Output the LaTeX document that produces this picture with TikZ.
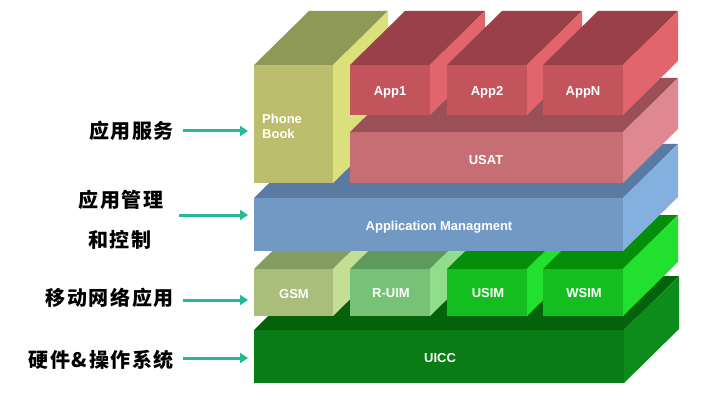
\documentclass[tikz,border=0pt]{standalone}
\usepackage{fontspec}
\setmainfont{Liberation Sans}
\newfontfamily\cjk[LetterSpace=8]{Noto Sans CJK SC}
\usetikzlibrary{arrows.meta}
\definecolor{pbF}{HTML}{BCBE6E}\definecolor{pbT}{HTML}{8E9955}\definecolor{pbR}{HTML}{DCE07C}
\definecolor{apF}{HTML}{C4545C}\definecolor{apT}{HTML}{9A4048}\definecolor{apR}{HTML}{E2646C}
\definecolor{usF}{HTML}{C66E74}\definecolor{usT}{HTML}{9A5056}\definecolor{usR}{HTML}{E08890}
\definecolor{amF}{HTML}{7299C4}\definecolor{amT}{HTML}{5A7AA2}\definecolor{amR}{HTML}{84B0E0}
\definecolor{gsF}{HTML}{A9BE7A}\definecolor{gsT}{HTML}{849C60}\definecolor{gsR}{HTML}{C4DE94}
\definecolor{ruF}{HTML}{76C277}\definecolor{ruT}{HTML}{5E9A5C}\definecolor{ruR}{HTML}{90DE8C}
\definecolor{siF}{HTML}{14BE20}\definecolor{siT}{HTML}{058E0A}\definecolor{siR}{HTML}{22E030}
\definecolor{icF}{HTML}{0A7C16}\definecolor{icT}{HTML}{04620A}\definecolor{icR}{HTML}{0C8C1A}
\definecolor{arrowc}{HTML}{25B995}
\newcommand\slab[7]{%
  \fill[#6] (#1,#2) -- (#1+55,#2-54) -- (#3+55,#2-54) -- (#3,#2) -- cycle;
  \fill[#7] (#3,#2) -- (#3+55,#2-54) -- (#3+55,#4-54) -- (#3,#4) -- cycle;
  \fill[#5] (#1,#2) rectangle (#3,#4);}
\tikzset{
  boxtext/.style={text=white,font=\bfseries\fontsize{13}{15}\selectfont,inner sep=0pt},
  sidetext/.style={text=black,font=\cjk\bfseries\fontsize{20}{22}\selectfont,inner sep=0pt},
  arr/.style={draw=arrowc,line width=3pt,-{Triangle[length=8pt,width=10pt]}}
}
\begin{document}
\begin{tikzpicture}[x=1pt,y=-1pt]
\useasboundingbox (0,0) rectangle (706,406);
\fill[white] (0,0) rectangle (706,406);
% stack
\slab{254}{330}{624}{383}{icF}{icT}{icR}
\slab{254}{269}{333}{316}{gsF}{gsT}{gsR}
\slab{350}{269}{430}{316}{ruF}{ruT}{ruR}
\slab{447}{269}{527}{316}{siF}{siT}{siR}
\slab{543}{269}{623}{316}{siF}{siT}{siR}
\slab{254}{198}{623}{251}{amF}{amT}{amR}
\slab{254}{65}{333}{183}{pbF}{pbT}{pbR}
\slab{350}{132}{623}{183}{usF}{usT}{usR}
\slab{350}{65}{430}{115}{apF}{apT}{apR}
\slab{447}{65}{527}{115}{apF}{apT}{apR}
\slab{543}{65}{623}{115}{apF}{apT}{apR}
% box labels
\node[boxtext,anchor=west,align=left] (pb) at (262,126) {Phone\\Book};
\node[boxtext] (a1) at (390,92) {App1};
\node[boxtext] (a2) at (487,92) {App2};
\node[boxtext] (an) at (583,92) {AppN};
\node[boxtext] (us) at (486,160) {USAT};
\node[boxtext] (am) at (439,227) {Application Managment};
\node[boxtext] (gs) at (294,294) {GSM};
\node[boxtext] (ru) at (391,293) {R-UIM};
\node[boxtext] (si) at (488,293) {USIM};
\node[boxtext] (ws) at (584,293) {WSIM};
\node[boxtext] (ic) at (440,358) {UICC};
% side labels
\node[sidetext,anchor=east] (l1) at (174,131) {应用服务};
\node[sidetext] (l2a) at (121,200) {应用管理};
\node[sidetext] (l2b) at (120,240) {和控制};
\node[sidetext,anchor=east] (l3) at (174,298) {移动网络应用};
\node[sidetext,anchor=east] (l4) at (174,360) {硬件\&操作系统};
% arrows
\coordinate (s1) at (183,131); \coordinate (t1) at (248,131);
\coordinate (s2) at (179,215); \coordinate (t2) at (248,215);
\coordinate (s3) at (183,300); \coordinate (t3) at (248,300);
\coordinate (s4) at (183,358); \coordinate (t4) at (248,358);
\draw[arr] (s1) -- (t1);
\draw[arr] (s2) -- (t2);
\draw[arr] (s3) -- (t3);
\draw[arr] (s4) -- (t4);
\end{tikzpicture}
\end{document}
